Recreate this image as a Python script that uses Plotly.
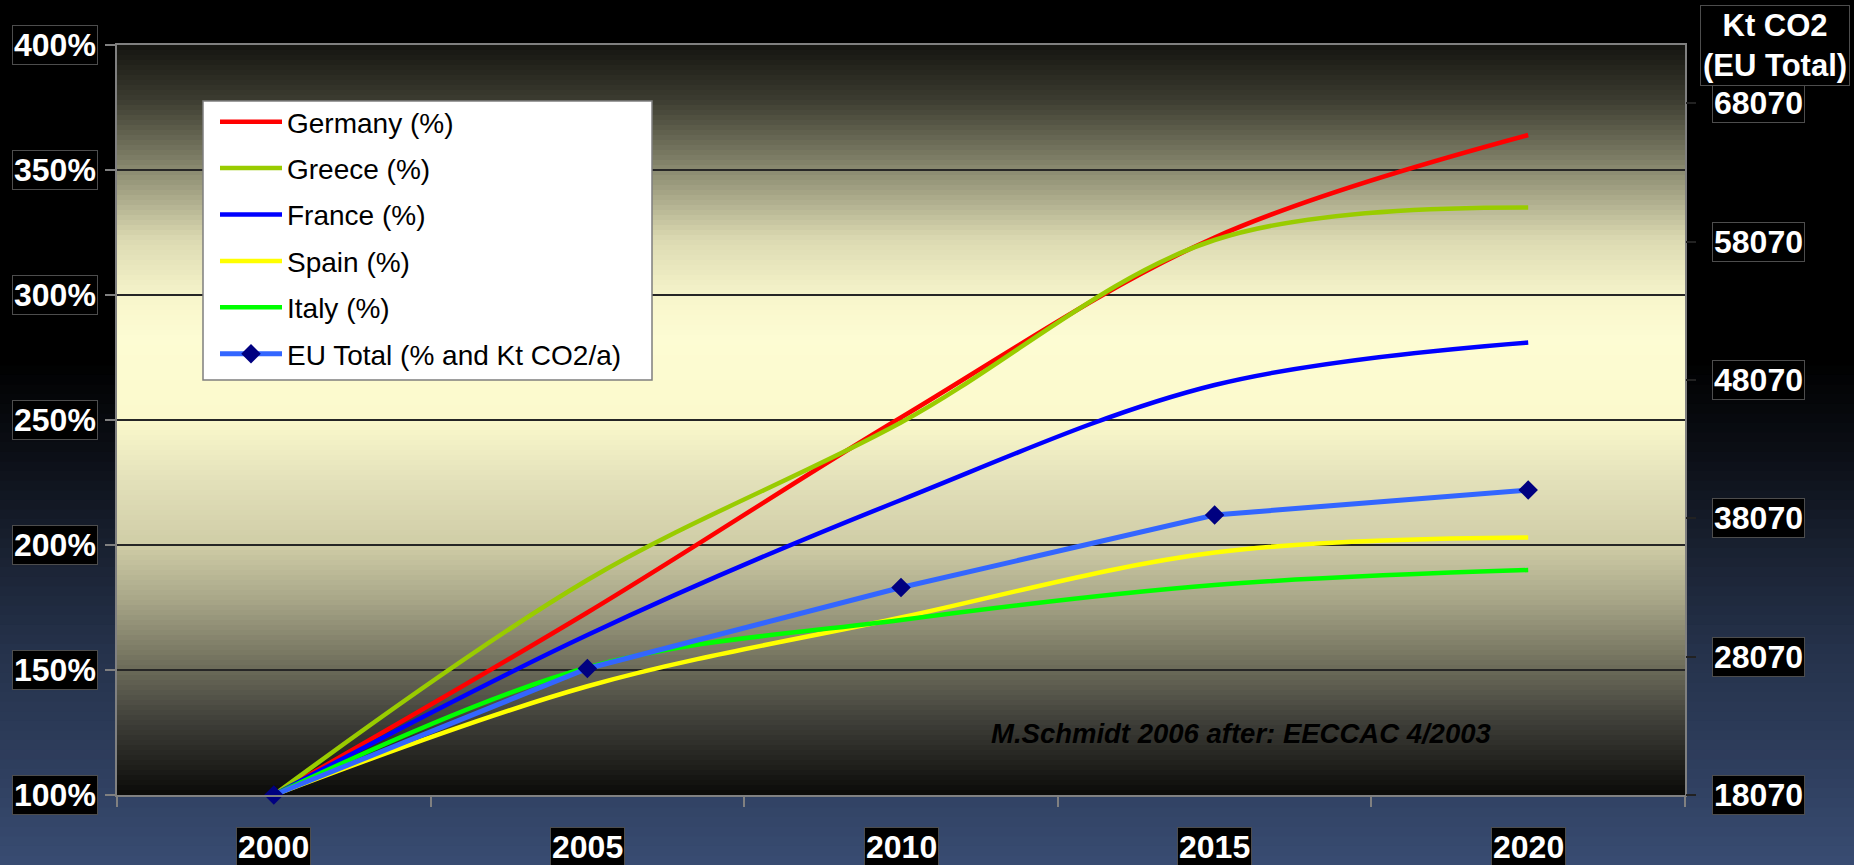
import plotly.graph_objects as go

# ---------------- data ----------------
years = ["2000", "2005", "2010", "2015", "2020"]
germany = [100, 173, 251, 323, 364]
greece = [100, 186, 249, 322, 335]
france = [100, 164, 218, 264, 281]
spain = [100, 143.5, 171, 197, 203]
italy = [100, 151, 170, 184, 190]
eu_total = [100, 150.6, 183, 212, 222]

left_ticks = [100, 150, 200, 250, 300, 350, 400]
left_labels = ["100%", "150%", "200%", "250%", "300%", "350%", "400%"]
right_ticks = [18070, 28070, 38070, 48070, 58070, 68070]
right_labels = ["18070", "28070", "38070", "48070", "58070", "68070"]
right_range = [18070, 72280]

series_names = ["Germany (%)", "Greece (%)", "France (%)", "Spain (%)", "Italy (%)"]
series_values = [germany, greece, france, spain, italy]
series_colors = ["#ff0000", "#99cc00", "#0000ff", "#ffff00", "#00ff00"]

# ---------------- geometry (pixels) ----------------
W, H = 1854, 865
ML, MR, MT, MB = 117, 169, 45, 70
PW = W - ML - MR
PH = H - MT - MB


def px_to_paper_x(px):
    return (px - ML) / PW


def px_to_paper_y(py):
    return (H - MB - py) / PH


def hex2rgb(h):
    h = h.lstrip("#")
    return tuple(int(h[i:i + 2], 16) for i in (0, 2, 4))


def interp(stops, y):
    if y <= stops[0][0]:
        return stops[0][1]
    for (y0, c0), (y1, c1) in zip(stops[:-1], stops[1:]):
        if y0 <= y <= y1:
            t = (y - y0) / (y1 - y0)
            a, b = hex2rgb(c0), hex2rgb(c1)
            r = [round(a[i] + (b[i] - a[i]) * t) for i in range(3)]
            return "rgb(%d,%d,%d)" % tuple(r)
    return stops[-1][1]


paper_stops = [(0, "#000000"), (360, "#000000"), (450, "#0b0e15"), (550, "#192131"),
               (650, "#25324b"), (760, "#2e3d5c"), (865, "#384c72")]
plot_stops = [(45, "#141410"), (100, "#3c3c30"), (170, "#8a8a70"), (240, "#dcdab2"),
              (300, "#f8f6cc"), (340, "#fdfcd3"), (420, "#fbf9cc"), (480, "#e3e1ba"),
              (546, "#cfcca6"), (600, "#a8a688"), (650, "#7c7b65"), (720, "#40403a"),
              (795, "#0a0a08")]

shapes = []
# figure background gradient
n = 90
for i in range(n):
    y0 = H * i / n
    y1 = H * (i + 1) / n + 1
    shapes.append(dict(type="rect", xref="paper", yref="paper", layer="below",
                       x0=px_to_paper_x(-5), x1=px_to_paper_x(W + 5),
                       y0=px_to_paper_y(y1), y1=px_to_paper_y(y0),
                       fillcolor=interp(paper_stops, (y0 + y1) / 2), line=dict(width=0)))
# plot area gradient
n = 150
for i in range(n):
    y0 = MT + PH * i / n
    y1 = MT + PH * (i + 1) / n + 0.6
    shapes.append(dict(type="rect", xref="paper", yref="paper", layer="below",
                       x0=0, x1=1, y0=px_to_paper_y(min(y1, H - MB)), y1=px_to_paper_y(y0),
                       fillcolor=interp(plot_stops, (y0 + y1) / 2), line=dict(width=0)))
# legend box
shapes.append(dict(type="rect", xref="paper", yref="paper", layer="above",
                   x0=px_to_paper_x(203), x1=px_to_paper_x(652),
                   y0=px_to_paper_y(380), y1=px_to_paper_y(101),
                   fillcolor="white", line=dict(color="#7f7f7f", width=1.5)))

fig = go.Figure()
for i, (name, vals, col) in enumerate(zip(series_names, series_values, series_colors)):
    fig.add_trace(go.Scatter(x=years, y=vals, name=name, mode="lines",
                             line=dict(color=col, width=4.5, shape="spline", smoothing=1),
                             legendgroup="g%d" % i))
fig.add_trace(go.Scatter(x=years, y=eu_total, name="EU Total (% and Kt CO2/a)",
                         mode="lines+markers", cliponaxis=False,
                         line=dict(color="#3366ff", width=5),
                         marker=dict(symbol="diamond", size=15, color="#000080"),
                         legendgroup="g5"))
# invisible trace to activate the secondary (Kt CO2) axis
fig.add_trace(go.Scatter(x=[years[0]], y=[right_ticks[0]], yaxis="y2", mode="markers",
                         marker=dict(opacity=0), showlegend=False, hoverinfo="skip"))

lab_font = dict(family="Liberation Sans, Arial, sans-serif", size=32, color="white", weight=700)
annotations = []
for v, lab in zip(left_ticks, left_labels):
    annotations.append(dict(x=0, xref="paper", y=v, yref="y", xanchor="right", yanchor="middle",
                            xshift=-19, text=lab, showarrow=False, font=lab_font,
                            bgcolor="black", bordercolor="#4d4d4d", borderwidth=1, borderpad=1))
for v, lab in zip(right_ticks, right_labels):
    annotations.append(dict(x=1, xref="paper", y=v, yref="y2", xanchor="left", yanchor="middle",
                            xshift=27, text=lab, showarrow=False, font=lab_font,
                            bgcolor="black", bordercolor="#4d4d4d", borderwidth=1, borderpad=1))
for i, yr in enumerate(years):
    annotations.append(dict(x=i, xref="x", y=px_to_paper_y(847), yref="paper",
                            xanchor="center", yanchor="middle", text=yr, showarrow=False,
                            font=lab_font, bgcolor="black", bordercolor="#4d4d4d",
                            borderwidth=1, borderpad=1))
annotations.append(dict(x=px_to_paper_x(1775), xref="paper", y=px_to_paper_y(45), yref="paper",
                        xanchor="center", yanchor="middle", text="Kt CO2<br>(EU Total)",
                        showarrow=False, font=dict(family="Liberation Sans, Arial, sans-serif",
                                                   size=31, color="white", weight=700),
                        bgcolor="black", bordercolor="#4d4d4d", borderwidth=1, borderpad=2))
annotations.append(dict(x=px_to_paper_x(1241), xref="paper", y=px_to_paper_y(733), yref="paper",
                        xanchor="center", yanchor="middle",
                        text="M.Schmidt 2006 after: EECCAC 4/2003", showarrow=False,
                        font=dict(family="Liberation Sans, Arial, sans-serif", size=27.5,
                                  color="black", weight=700, style="italic")))

fig.update_layout(
    width=W, height=H,
    margin=dict(l=ML, r=MR, t=MT, b=MB, pad=0),
    paper_bgcolor="black",
    plot_bgcolor="rgba(0,0,0,0)",
    shapes=shapes,
    annotations=annotations,
    showlegend=True,
    legend=dict(x=px_to_paper_x(215), y=px_to_paper_y(97), xanchor="left", yanchor="top",
                bgcolor="rgba(0,0,0,0)", borderwidth=0, tracegroupgap=7, itemwidth=62,
                font=dict(family="Liberation Sans, Arial, sans-serif", size=28, color="black")),
    xaxis=dict(type="category", tickson="boundaries", ticks="outside", ticklen=10,
               tickcolor="#808080", tickwidth=1.5, showticklabels=False, showgrid=False,
               showline=True, linecolor="#808080", linewidth=2, mirror=True,
               range=[-0.5, 4.5], fixedrange=True),
    yaxis=dict(range=[100, 400], tickvals=left_ticks, ticks="outside", ticklen=10,
               tickcolor="#808080", tickwidth=1.5, showticklabels=False, showgrid=True,
               gridcolor="#262626", gridwidth=1.5, showline=True, linecolor="#808080",
               linewidth=2, mirror=True, zeroline=False),
    yaxis2=dict(range=right_range, tickvals=right_ticks, overlaying="y", side="right",
                ticks="outside", ticklen=10, tickcolor="#222222", tickwidth=1.5,
                showticklabels=False, showgrid=False, showline=False, zeroline=False),
)

fig.write_html("out.html", config={"displayModeBar": False},
               post_script="document.body.style.margin='0';document.body.style.overflow='hidden';")
